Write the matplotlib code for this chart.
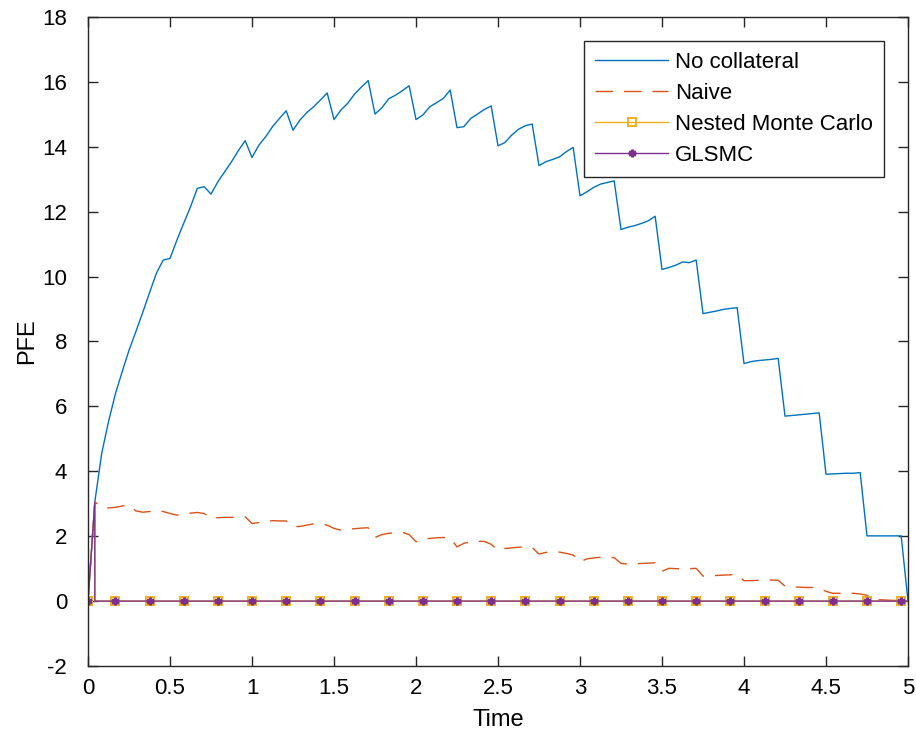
import numpy as np
import matplotlib
matplotlib.use("Agg")
import matplotlib.pyplot as plt

plt.rcParams['font.family'] = ['Liberation Sans', 'DejaVu Sans']
plt.rcParams['lines.scale_dashes'] = False

# time grid (quarterly coupons, 6 steps per quarter)
time = np.linspace(0, 5, 121)

no_collateral = [
    0.00, 3.06, 4.55, 5.53, 6.38, 7.07, 7.73, 8.30, 8.89, 9.50,
    10.10, 10.51, 10.56, 11.12, 11.64, 12.15, 12.72, 12.77, 12.54, 12.92,
    13.23, 13.54, 13.88, 14.19, 13.67, 14.05, 14.31, 14.62, 14.87, 15.11,
    14.51, 14.82, 15.05, 15.23, 15.44, 15.66, 14.84, 15.13, 15.34, 15.62,
    15.84, 16.04, 15.01, 15.20, 15.48, 15.59, 15.73, 15.88, 14.84, 14.98,
    15.23, 15.36, 15.49, 15.75, 14.59, 14.62, 14.87, 15.01, 15.15, 15.26,
    14.03, 14.13, 14.36, 14.54, 14.65, 14.70, 13.42, 13.54, 13.61, 13.69,
    13.85, 13.98, 12.49, 12.61, 12.75, 12.85, 12.90, 12.95, 11.45, 11.52,
    11.57, 11.64, 11.72, 11.86, 10.22, 10.28, 10.35, 10.45, 10.43, 10.51,
    8.86, 8.90, 8.94, 8.99, 9.02, 9.04, 7.32, 7.38, 7.41, 7.43,
    7.45, 7.48, 5.70, 5.72, 5.74, 5.76, 5.78, 5.80, 3.91, 3.92,
    3.93, 3.94, 3.94, 3.96, 2.01, 2.01, 2.01, 2.01, 2.01, 2.01,
    0.00,
]

naive = [
    0.00, 3.06, 2.89, 2.87, 2.89, 2.93, 2.96, 2.78, 2.74, 2.76,
    2.78, 2.76, 2.70, 2.65, 2.67, 2.71, 2.73, 2.70, 2.55, 2.57,
    2.58, 2.58, 2.59, 2.60, 2.39, 2.42, 2.45, 2.48, 2.47, 2.47,
    2.29, 2.30, 2.34, 2.38, 2.38, 2.34, 2.24, 2.19, 2.21, 2.23,
    2.25, 2.26, 1.96, 2.05, 2.09, 2.10, 2.12, 2.05, 1.83, 1.92,
    1.93, 1.95, 1.96, 1.95, 1.67, 1.78, 1.83, 1.84, 1.84, 1.75,
    1.57, 1.62, 1.64, 1.66, 1.67, 1.65, 1.45, 1.50, 1.51, 1.51,
    1.47, 1.42, 1.21, 1.30, 1.33, 1.35, 1.35, 1.34, 1.16, 1.14,
    1.15, 1.16, 1.17, 1.18, 0.92, 1.01, 1.00, 0.99, 1.00, 1.01,
    0.77, 0.78, 0.79, 0.80, 0.81, 0.82, 0.63, 0.63, 0.64, 0.65,
    0.65, 0.64, 0.46, 0.44, 0.43, 0.42, 0.42, 0.41, 0.30, 0.24,
    0.24, 0.24, 0.24, 0.22, 0.18, 0.05, 0.04, 0.03, 0.02, 0.01,
    0.00,
]

# collateralised series: margin call right after first step (value before / after call at t=1/24)
mc_time = np.concatenate([time[:2], time[1:2], time[2:]])
nested_mc = [0.0, 3.05, 0.0] + [0.0] * (len(time) - 2)
glsmc = [0.0, 3.05, 0.0] + [0.0] * (len(time) - 2)
marker_idx = [0] + [i + 1 for i in range(4, 120, 5)]

labels = ['No collateral', 'Naive', 'Nested Monte Carlo', 'GLSMC']
colors = ['#0072BD', '#D95319', '#EDB120', '#7E2F8E']

W, H = 916, 744
fig = plt.figure(figsize=(W / 100, H / 100), dpi=100)
ax = fig.add_axes([88 / W, 1 - 666 / H, 820 / W, 649 / H])

lw = 1.0
ax.plot(time, no_collateral, color=colors[0], lw=lw, label=labels[0])
ax.plot(time, naive, color=colors[1], lw=lw, linestyle=(0, (12.6, 7.9)), label=labels[1])
ax.plot(mc_time, nested_mc, color=colors[2], lw=lw, marker='s', markersize=6,
        markerfacecolor='none', markeredgecolor=colors[2], markeredgewidth=1.4,
        markevery=marker_idx, label=labels[2])
ax.plot(mc_time, glsmc, color=colors[3], lw=lw, marker=(6, 2, 0), markersize=5.5,
        markeredgewidth=1.8, markeredgecolor=colors[3], markevery=marker_idx, label=labels[3])

ax.set_xlim(0, 5)
ax.set_ylim(-2, 18)
ax.set_xticks(np.arange(0, 5.01, 0.5))
ax.set_xticklabels(['0', '0.5', '1', '1.5', '2', '2.5', '3', '3.5', '4', '4.5', '5'])
ax.set_yticks(np.arange(-2, 18.01, 2))
ax.set_yticklabels([str(v) for v in range(-2, 19, 2)])

axis_col = '#262626'
for s in ax.spines.values():
    s.set_color(axis_col)
    s.set_linewidth(1.0)
ax.tick_params(direction='in', length=7, width=1.0, colors=axis_col, labelcolor='black',
               labelsize=16, top=True, right=True)
ax.tick_params(axis='x', pad=9)
ax.tick_params(axis='y', pad=15)
ax.set_xlabel('Time', fontsize=17, labelpad=7)
ax.set_ylabel('PFE', fontsize=17, labelpad=3)

leg = ax.legend(loc='upper right', bbox_to_anchor=(884 / W, 1 - 41 / H), bbox_transform=fig.transFigure,
                fontsize=16, frameon=True, fancybox=False, framealpha=1, edgecolor='#262626',
                handlelength=3.3, handletextpad=0.3, labelspacing=0.45, borderpad=0.5,
                borderaxespad=0)
leg.get_frame().set_linewidth(1.0)

fig.savefig('out.png', dpi=100)
